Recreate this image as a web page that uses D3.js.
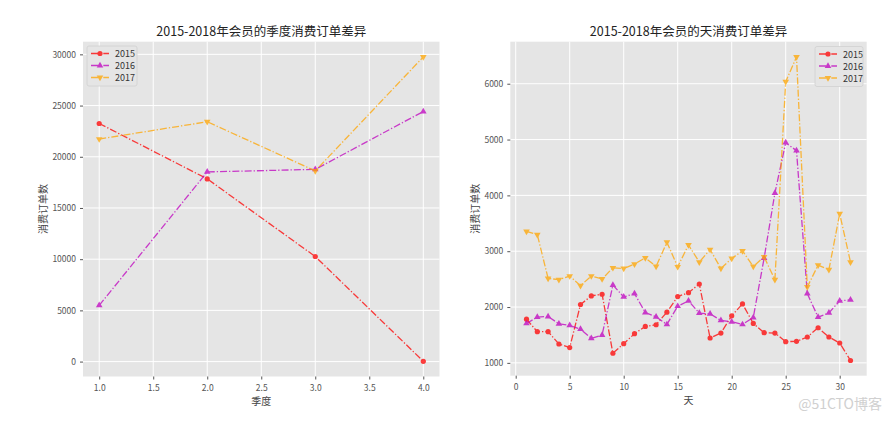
<!DOCTYPE html>
<html><head><meta charset="utf-8">
<script src="https://cdn.jsdelivr.net/npm/d3@7"></script>
<style>
body{margin:0;background:#fff;}
svg text{font-family:"Noto Sans CJK SC","DejaVu Sans",sans-serif;}
</style></head>
<body><svg id="c" width="889" height="422"></svg>
<script>
const seriesNames = ["2015","2016","2017"];
const quarters = [1,2,3,4];
const q2015 = [23250,17840,10260,30];
const q2016 = [5490,18520,18770,24420];
const q2017 = [21730,23420,18620,29750];
const days = d3.range(1,32);
const d2015 = [1783,1558,1558,1338,1273,2045,2199,2229,1172,1344,1522,1653,1683,1908,2187,2258,2413,1445,1534,1843,2056,1706,1540,1534,1380,1386,1463,1629,1463,1356,1042];
const d2016 = [1706,1819,1831,1700,1671,1605,1439,1499,2395,2181,2240,1902,1825,1688,2015,2110,1890,1878,1760,1736,1688,1813,2875,4042,4944,4801,2240,1819,1896,2110,2128];
const d2017 = [3356,3297,2513,2490,2555,2383,2555,2502,2703,2691,2769,2881,2727,3160,2721,3113,2804,3030,2691,2870,3006,2727,2899,2490,6036,6481,2359,2751,2668,3671,2804];
const qTicksX = [1.0,1.5,2.0,2.5,3.0,3.5,4.0];
const qTicksY = [0,5000,10000,15000,20000,25000,30000];
const dTicksX = [0,5,10,15,20,25,30];
const dTicksY = [1000,2000,3000,4000,5000,6000];

const colors = ["#ff0000","#bf00bf","#ffa500"];
const markers = ["circle","up","down"];
const svg = d3.select("#c");

function marker(g, type, x, y, color, s){
  if(type==="circle"){
    g.append("circle").attr("cx",x).attr("cy",y).attr("r",s).attr("fill",color);
  } else {
    const sym = d3.symbol().type(d3.symbolTriangle).size(s*s*2.8);
    g.append("path").attr("d",sym()).attr("fill",color)
      .attr("transform",`translate(${x},${y}) rotate(${type==="down"?180:0})`);
  }
}

function panel(opt){
  const {x0,x1,y0,y1,xTicks,yTicks,xFmt,title,xlabel,ylabel,data,xdata,legend} = opt;
  const xExt = d3.extent(xdata), allY = d3.merge(data), yExt = d3.extent(allY);
  const xm = (xExt[1]-xExt[0])*0.05, ym=(yExt[1]-yExt[0])*0.05;
  const x = d3.scaleLinear().domain([xExt[0]-xm,xExt[1]+xm]).range([x0,x1]);
  const y = d3.scaleLinear().domain([yExt[0]-ym,yExt[1]+ym]).range([y1,y0]);
  const g = svg.append("g");
  g.append("rect").attr("x",x0).attr("y",y0).attr("width",x1-x0).attr("height",y1-y0).attr("fill","#e5e5e5");
  xTicks.forEach(t=>g.append("line").attr("x1",x(t)).attr("x2",x(t)).attr("y1",y0).attr("y2",y1).attr("stroke","#fff").attr("stroke-width",1));
  yTicks.forEach(t=>g.append("line").attr("y1",y(t)).attr("y2",y(t)).attr("x1",x0).attr("x2",x1).attr("stroke","#fff").attr("stroke-width",1));
  const xa = g.append("g").attr("transform",`translate(0,${y1})`)
    .call(d3.axisBottom(x).tickValues(xTicks).tickFormat(xFmt).tickSize(3).tickPadding(5));
  const ya = g.append("g").attr("transform",`translate(${x0},0)`)
    .call(d3.axisLeft(y).tickValues(yTicks).tickFormat(d3.format("d")).tickSize(3).tickPadding(4));
  [xa,ya].forEach(a=>{
    a.select(".domain").remove();
    a.selectAll(".tick line").attr("stroke","#555");
    a.selectAll(".tick text").attr("fill","#555").attr("font-size","8.5px");
  });
  g.append("text").attr("x",(x0+x1)/2).attr("y",36).attr("text-anchor","middle")
    .attr("font-size","12.5px").attr("fill","#222").text(title);
  g.append("text").attr("x",(x0+x1)/2).attr("y",y1+28).attr("text-anchor","middle")
    .attr("font-size","10px").attr("fill","#444").text(xlabel);
  g.append("text").attr("transform",`translate(${x0-opt.ylOff},${(y0+y1)/2}) rotate(-90)`)
    .attr("text-anchor","middle").attr("font-size","10px").attr("fill","#444").text(ylabel);
  const line = d3.line().x((d,i)=>x(xdata[i])).y(d=>y(d));
  data.forEach((vals,k)=>{
    const sg = g.append("g").attr("opacity",0.75);
    sg.append("path").attr("d",line(vals)).attr("fill","none").attr("stroke",colors[k])
      .attr("stroke-width",1.3).attr("stroke-dasharray","7,2,1.3,2");
    vals.forEach((v,i)=>marker(sg,markers[k],x(xdata[i]),y(v),colors[k],2.6));
  });
  const L = legend;
  const lg = g.append("g");
  lg.append("rect").attr("x",L.x).attr("y",L.y).attr("width",L.w).attr("height",40).attr("rx",2)
    .attr("fill","#e5e5e5").attr("stroke","#d0d0d0").attr("stroke-width",0.8);
  seriesNames.forEach((n,k)=>{
    const yy = L.y+7.5+k*12;
    const eg = lg.append("g").attr("opacity",0.75);
    eg.append("line").attr("x1",L.x+4).attr("x2",L.x+22).attr("y1",yy).attr("y2",yy)
      .attr("stroke",colors[k]).attr("stroke-width",1.3).attr("stroke-dasharray","7,2,1.3,2");
    marker(eg,markers[k],L.x+13,yy,colors[k],2.6);
    lg.append("text").attr("x",L.x+28).attr("y",yy+3.5).attr("font-size","9px").attr("fill","#333").text(n);
  });
}

panel({x0:83,x1:439.5,y0:41.7,y1:376.5,xTicks:qTicksX,yTicks:qTicksY,xFmt:d3.format(".1f"),
  title:"2015-2018年会员的季度消费订单差异",xlabel:"季度",ylabel:"消费订单数",ylOff:36,
  data:[q2015,q2016,q2017],xdata:quarters,legend:{x:87,y:46,w:50}});
panel({x0:510.3,x1:866.7,y0:41.7,y1:375.7,xTicks:dTicksX,yTicks:dTicksY,xFmt:d3.format("d"),
  title:"2015-2018年会员的天消费订单差异",xlabel:"天",ylabel:"消费订单数",ylOff:31,
  data:[d2015,d2016,d2017],xdata:days,legend:{x:815,y:46.5,w:48}});

svg.append("text").attr("x",882).attr("y",409).attr("text-anchor","end").attr("font-size","14px")
  .attr("fill","#d0d0d0").text("@51CTO博客");
</script></body></html>
